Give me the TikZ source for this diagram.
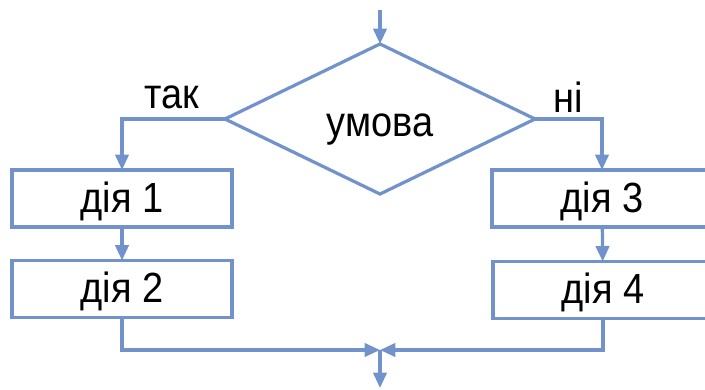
\documentclass[tikz,border=0pt]{standalone}
\usepackage{fontspec}
\setmainfont{Liberation Sans}[FakeStretch=0.9]
\usetikzlibrary{shapes.geometric,arrows.meta}
\definecolor{blocklinie}{RGB}{114,146,204}

\begin{document}
\begin{tikzpicture}[>={Triangle[length=11pt,width=9.5pt]},x=0.025cm,y=-0.025cm,
	line width=2.3pt,
	every node/.style={font=\fontsize{30}{36}\selectfont},
	aktion/.style={draw=blocklinie,rectangle,minimum width=5.5cm,
		minimum height=1.425cm,inner sep=0pt,outer sep=0pt,
		text height=0.675cm,text depth=0pt},
	frage/.style={draw=blocklinie,diamond,minimum width=7.75cm,
		minimum height=3.75cm,inner sep=0pt,outer sep=0pt,
		text height=0.85cm,text depth=0pt},
	pfeil/.style={draw=blocklinie,->}]

\clip (0,0) rectangle (705,389);

% Verzweigung
\node[frage] (bedingung) at (380,119) {умова};
\node (ja) at (172,97) {так};
\node (nein) at (568,97) {ні};

% Zweige
\node[aktion] (dia1) at (122,198.5) {дія 1};
\node[aktion] (dia2) at (122,289) {дія 2};
\node[aktion] (dia3) at (602,198.5) {дія 3};
\node[aktion] (dia4) at (603,290) {дія 4};

\coordinate (anfang) at (380,10);
\coordinate (treffen) at (380,350);
\coordinate (ende) at (380,388);

% Pfeile
\draw[pfeil] (anfang) -- (bedingung.north);
\draw[pfeil] (bedingung.west) -| (dia1.north);
\draw[pfeil] (bedingung.east) -| (dia3.north);
\draw[pfeil] (dia1) -- (dia2);
\draw[pfeil] (dia3) -- (dia4);
\draw[pfeil] (dia2.south) |- (treffen);
\draw[pfeil] (dia4.south) |- (treffen);
\draw[pfeil] (treffen) -- (ende);

\end{tikzpicture}
\end{document}
